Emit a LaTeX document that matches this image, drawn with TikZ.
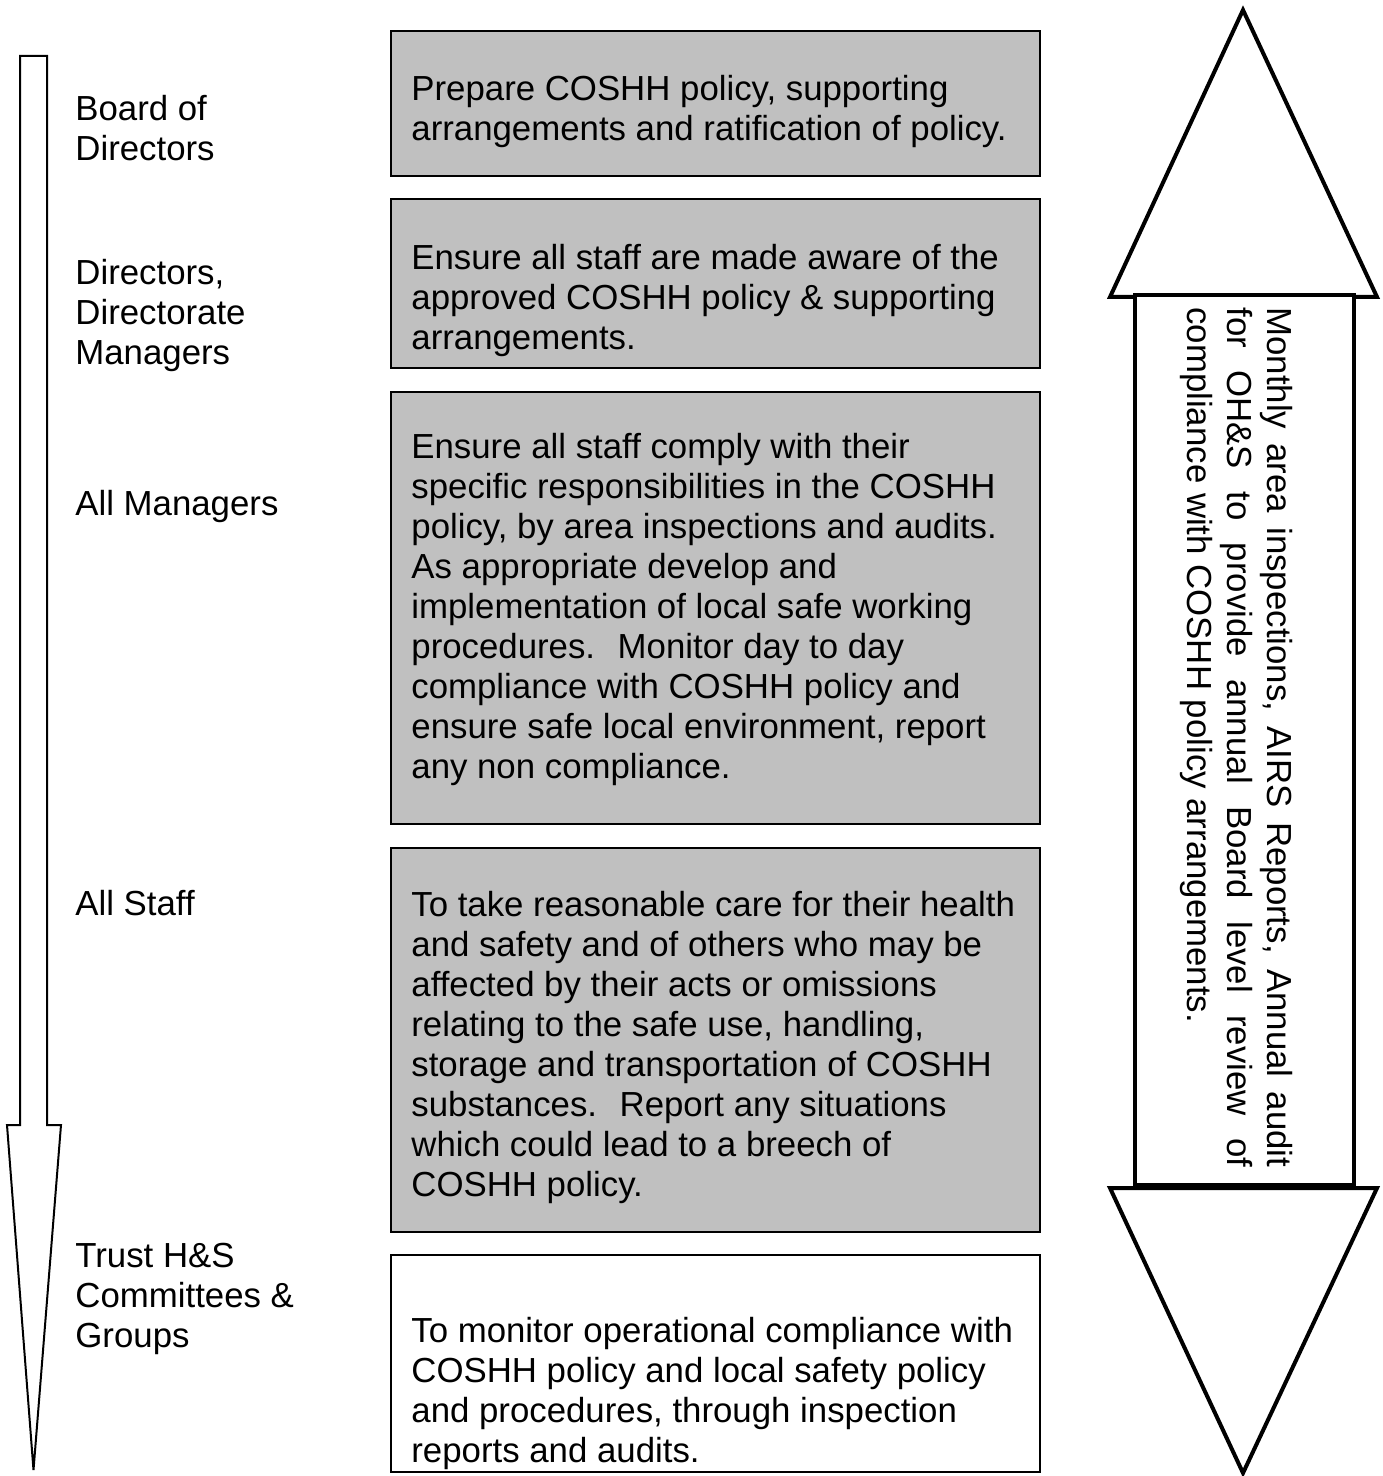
\documentclass[tikz,border=0pt]{standalone}
\usepackage{fontspec}
\setmainfont{Liberation Sans}
\definecolor{boxgray}{RGB}{192,192,192}
\begin{document}
\begin{tikzpicture}[x=0.5pt, y=-0.5pt, line join=miter,
    every node/.style={font=\fontsize{17.4}{20}\selectfont, inner sep=0pt},
    role/.style={anchor=north west, align=left},
    duty/.style={anchor=north west, align=left},
    gbox/.style={draw, line width=1pt, fill=boxgray, anchor=north west, minimum width=324.5pt},
    wbox/.style={gbox, fill=white}]
  \useasboundingbox (0,0) rectangle (1382,1476);
  % down arrow on the left
  \draw [line width=1pt] (20,56) -- (47,56) -- (47,1125) -- (61,1125) -- (33.5,1470) -- (7,1125) -- (20,1125) -- cycle;
  % double arrow on the right
  \draw [line width=2pt, fill=white] (1243,10) -- (1377,297) -- (1110,297) -- cycle;
  \draw [line width=2pt, fill=white] (1110,1188) -- (1377,1188) -- (1243,1473) -- cycle;
  \node [draw, line width=2pt, fill=white, anchor=north west, minimum width=109.5pt, minimum height=445pt] (Band) at (1133,293) {};
  \node [anchor=north west, rotate=-90, align=left] (BandTxt) at (1296,307) {\strut\makebox[430pt][s]{Monthly area inspections, AIRS Reports, Annual audit}\\\makebox[430pt][s]{for OH\&S to provide annual Board level review of}\\compliance with COSHH policy arrangements.};
  % roles
  \node [role] (Board) at (75,92) {\strut Board of\\Directors};
  \node [role] (Dirs) at (75,256) {\strut Directors,\\Directorate\\Managers};
  \node [role] (Mgrs) at (75,487) {\strut All Managers};
  \node [role] (Staff) at (75,887) {\strut All Staff};
  \node [role] (Cttee) at (75,1239) {\strut Trust H\&S\\Committees \&\\Groups};
  % duties
  \node [gbox, minimum height=72.5pt] (Prep) at (390,30) {};
  \node [gbox, minimum height=84.5pt] (Aware) at (390,198) {};
  \node [gbox, minimum height=216pt] (Comply) at (390,391) {};
  \node [gbox, minimum height=192pt] (Care) at (390,847) {};
  \node [wbox, minimum height=108.5pt] (Monitor) at (390,1254) {};
  \node [duty] (PrepTxt) at (411,72) {\strut Prepare COSHH policy, supporting\\arrangements and ratification of policy.};
  \node [duty] (AwareTxt) at (411,241) {\strut Ensure all staff are made aware of the\\approved COSHH policy \& supporting\\arrangements.};
  \node [duty] (ComplyTxt) at (411,430) {\strut Ensure all staff comply with their\\specific responsibilities in the COSHH\\policy, by area inspections and audits.\\As appropriate develop and\\implementation of local safe working\\procedures.~ Monitor day to day\\compliance with COSHH policy and\\ensure safe local environment, report\\any non compliance.};
  \node [duty] (CareTxt) at (411,888) {\strut To take reasonable care for their health\\and safety and of others who may be\\affected by their acts or omissions\\relating to the safe use, handling,\\storage and transportation of COSHH\\substances.~ Report any situations\\which could lead to a breech of\\COSHH policy.};
  \node [duty] (MonitorTxt) at (411,1314) {\strut To monitor operational compliance with\\COSHH policy and local safety policy\\and procedures, through inspection\\reports and audits.};
\end{tikzpicture}
\end{document}
